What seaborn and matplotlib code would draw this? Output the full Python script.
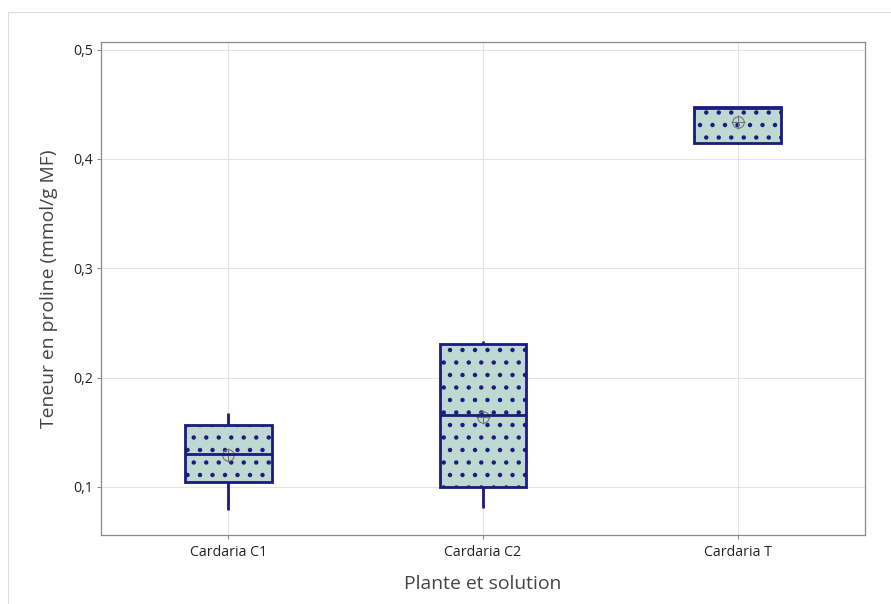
import numpy as np
import pandas as pd
import matplotlib
matplotlib.use("Agg")
import matplotlib.pyplot as plt
from matplotlib.patches import Rectangle
import seaborn as sns

# ---- data ----
categories = ["Cardaria C1", "Cardaria C2", "Cardaria T"]
# five values per group: lower whisker, Q1, median, Q3, upper whisker
c1_values = [0.079, 0.1045, 0.130, 0.1565, 0.1675]
c2_values = [0.081, 0.100, 0.1655, 0.2305, 0.2335]
t_values = [0.4145, 0.4145, 0.4462, 0.4475, 0.4475]
means = [0.129, 0.164, 0.434]
y_ticks = [0.1, 0.2, 0.3, 0.4, 0.5]
y_ticklabels = ["0,1", "0,2", "0,3", "0,4", "0,5"]
xlabel = "Plante et solution"
ylabel = "Teneur en proline (mmol/g MF)"

df = pd.DataFrame({
    "cat": np.repeat(categories, [len(c1_values), len(c2_values), len(t_values)]),
    "val": c1_values + c2_values + t_values,
})

DPI = 75
W, H = 891, 604
sns.set_style("white")
plt.rcParams["font.family"] = ["Open Sans", "DejaVu Sans"]
plt.rcParams["hatch.linewidth"] = 1.8

fig = plt.figure(figsize=(W / DPI, H / DPI), dpi=DPI)
fig.add_artist(Rectangle((8 / W, -0.05), 1.1, 1 - 12 / H + 0.05,
                         transform=fig.transFigure, fill=False,
                         edgecolor="#dcdcdc", linewidth=1.0))
ax = fig.add_axes([101 / W, 1 - 535 / H, (865 - 101) / W, (535 - 42) / H])

edge = "#1c1c80"
face = "#bed8d2"
lw = 2.7
sns.boxplot(data=df, x="cat", y="val", order=categories, whis=(0, 100),
            width=0.34, color=face, linecolor=edge, linewidth=lw,
            showcaps=False, saturation=1, ax=ax,
            boxprops=dict(facecolor=face, edgecolor=edge),
            medianprops=dict(color=edge, linewidth=lw),
            whiskerprops=dict(color=edge, linewidth=lw))
for p in ax.patches:
    p.set_hatch(".")
    p.set_edgecolor(edge)
    p.set_zorder(2)

mean_df = pd.DataFrame({"cat": categories, "mean": means})
sns.pointplot(data=mean_df, x="cat", y="mean", order=categories,
              linestyle="none", marker="o", markersize=11, color="#707070",
              markerfacecolor="none", markeredgewidth=1.0, errorbar=None, ax=ax)
sns.pointplot(data=mean_df, x="cat", y="mean", order=categories,
              linestyle="none", marker="+", markersize=14, color="#707070",
              markeredgewidth=1.0, errorbar=None, ax=ax)

ax.set_xlim(-0.5, 2.5)
ax.set_ylim(0.056, 0.507)
ax.set_yticks(y_ticks, labels=y_ticklabels)
ax.set_axisbelow(True)
ax.grid(True, color="#e4e4e4", linewidth=1.0)
for s in ax.spines.values():
    s.set_color("#8a8a8a")
    s.set_linewidth(1.2)
    s.set_visible(True)
ax.tick_params(axis="both", which="major", length=4, width=1, color="#8a8a8a",
               labelsize=13.5, labelcolor="#222222", direction="out",
               bottom=True, left=True)
ax.tick_params(axis="x", pad=6)
ax.set_xlabel(xlabel, fontsize=18.5, color="#444444", labelpad=14)
ax.set_ylabel(ylabel, fontsize=18.5, color="#444444", labelpad=15)

fig.savefig("out.png", dpi=DPI)
